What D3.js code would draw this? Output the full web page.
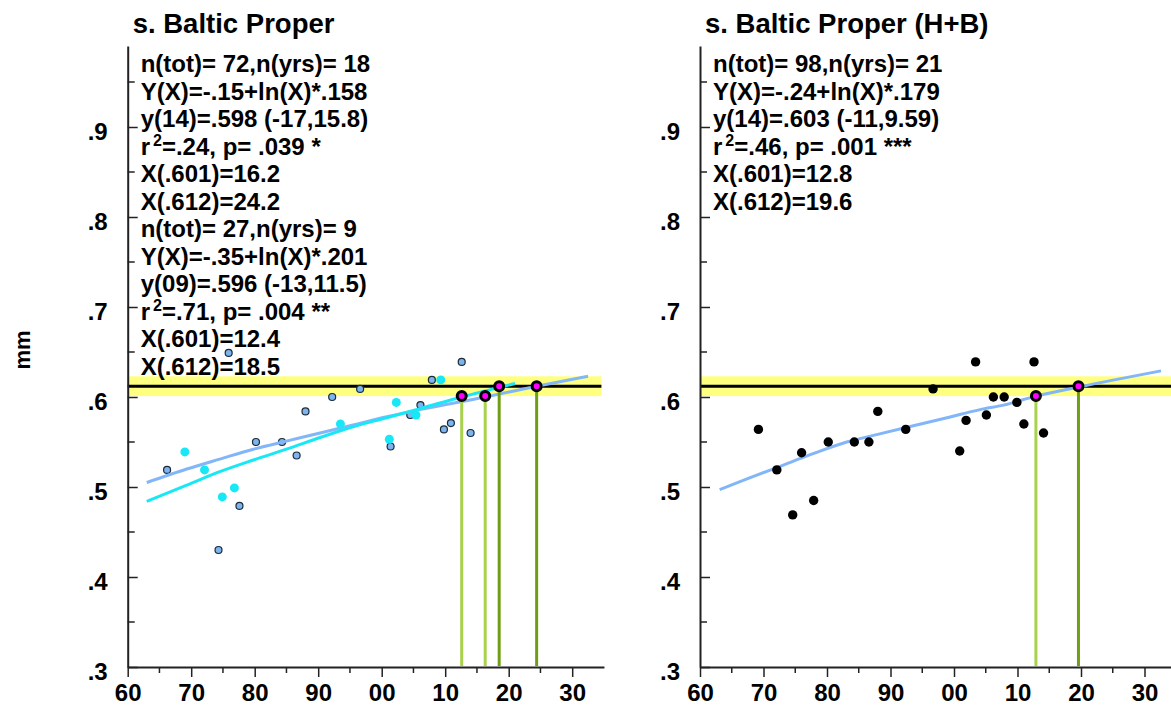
<!DOCTYPE html>
<html><head><meta charset="utf-8">
<script src="https://cdn.jsdelivr.net/npm/d3@7"></script>
<style>
body{margin:0;background:#fff;}
text{font-family:"Liberation Sans",Arial,Helvetica,sans-serif;font-weight:bold;fill:#000;}
</style></head>
<body><svg id="chart" width="1171" height="706"></svg>
<script>
// ---- data ----
const xDecades = [1960,1970,1980,1990,2000,2010,2020,2030];
const xMinor = [1965,1975,1985,1995,2005,2015,2025];
const yMajor = [0.3,0.4,0.5,0.6,0.7,0.8,0.9];
const yMinor = [0.35,0.45,0.55,0.65,0.75,0.85,0.95];
const targetBand = [0.601, 0.623];
const targetLine = 0.612;

// left panel: all samples (blue) and H+B subset (cyan)
const leftBlueYears  = [1966.2,1974.3,1975.9,1977.6,1980.2,1984.3,1986.6,1988.0,1992.2,1996.6,2001.4,2004.5,2006.1,2007.9,2009.8,2010.9,2012.6,2014.0];
const leftBlueValues = [0.519,0.430,0.649,0.479,0.550,0.550,0.535,0.584,0.600,0.609,0.545,0.580,0.591,0.619,0.564,0.571,0.639,0.560];
const leftCyanYears  = [1969.0,1972.1,1974.9,1976.8,1993.5,2001.2,2002.3,2005.4,2009.3];
const leftCyanValues = [0.539,0.519,0.489,0.499,0.570,0.553,0.594,0.580,0.619];
const leftFitYears   = [1963.0,1969.3,1974.5,1979.8,1985.0,1990.3,1995.5,2000.8,2006.0,2016.3,2024.4,2032.5];
const leftFitValues  = [0.505,0.520,0.531,0.542,0.551,0.560,0.569,0.578,0.586,0.600,0.612,0.623];
const leftCyanFitYears  = [1963.0,1969.3,1974.5,1979.8,1985.0,1990.3,1995.5,2000.8,2006.0,2012.6,2021.0];
const leftCyanFitValues = [0.484,0.502,0.517,0.530,0.542,0.555,0.567,0.577,0.587,0.600,0.615];
const leftMarkYears  = [2012.6,2016.3,2018.5,2024.4];
const leftMarkValues = [0.601,0.601,0.612,0.612];
const leftMarkKinds  = ["light","light","dark","dark"];
const leftTitle = "s. Baltic Proper";
const leftLines = ["n(tot)= 72,n(yrs)= 18","Y(X)=-.15+ln(X)*.158","y(14)=.598 (-17,15.8)","r|2|=.24, p= .039 *","X(.601)=16.2","X(.612)=24.2",
                   "n(tot)= 27,n(yrs)= 9","Y(X)=-.35+ln(X)*.201","y(09)=.596 (-13,11.5)","r|2|=.71, p= .004 **","X(.601)=12.4","X(.612)=18.5"];

// right panel (H+B)
const rightYears  = [1969.2,1972.1,1974.6,1976.0,1977.9,1980.2,1984.3,1986.6,1988.0,1992.4,1996.7,2000.9,2001.9,2003.4,2005.1,2006.2,2007.9,2009.9,2011.0,2012.6,2014.1];
const rightValues = [0.564,0.519,0.469,0.538,0.485,0.550,0.550,0.550,0.584,0.564,0.609,0.540,0.574,0.639,0.580,0.600,0.600,0.594,0.570,0.639,0.560];
const rightFitYears  = [1963.1,1967.4,1972.6,1977.8,1983.1,1988.3,1993.6,1998.9,2004.1,2007.8,2012.9,2019.6,2032.6];
const rightFitValues = [0.497,0.509,0.523,0.537,0.550,0.559,0.568,0.577,0.586,0.591,0.601,0.611,0.629];
const rightMarkYears  = [2012.9,2019.6];
const rightMarkValues = [0.601,0.612];
const rightMarkKinds  = ["light","dark"];
const rightTitle = "s. Baltic Proper (H+B)";
const rightLines = ["n(tot)= 98,n(yrs)= 21","Y(X)=-.24+ln(X)*.179","y(14)=.603 (-11,9.59)","r|2|=.46, p= .001 ***","X(.601)=12.8","X(.612)=19.6"];

const yLabel = "mm";

// ---- styles ----
const C = {band:"#ffff80", blueLine:"#82b6f8", blueDot:"#7cb4ee", cyan:"#18e8f6",
           light:"#a8d14c", dark:"#6f9e14", magenta:"#ff00ff", axis:"#222"};

const svg = d3.select("#chart");
const y = d3.scaleLinear().domain([0.3,0.99]).range([667,46]);

svg.append("text").attr("transform","translate(22,350) rotate(-90)")
   .attr("dy","0.35em").attr("text-anchor","middle").style("font-size","22px").text(yLabel);

function panel(x0, cfg){
  const x = d3.scaleLinear().domain([1960,2035]).range([x0, x0+6.35*75]);
  const g = svg.append("g");
  const xEnd = x(2034.6);

  // target band + line
  g.append("rect").attr("x",x(1960)).attr("width",xEnd-x(1960))
   .attr("y",y(targetBand[1])).attr("height",y(targetBand[0])-y(targetBand[1])).attr("fill",C.band);
  g.append("line").attr("x1",x(1960)).attr("x2",xEnd).attr("y1",y(targetLine)).attr("y2",y(targetLine))
   .attr("stroke","#000").attr("stroke-width",3);

  // x axis
  const xa = g.append("g").attr("transform","translate(0,667)")
    .call(d3.axisBottom(x).tickValues(xDecades).tickSize(10).tickSizeOuter(0).tickPadding(7)
      .tickFormat(d=>String(d%100).padStart(2,"0")));
  xa.select(".domain").attr("stroke",C.axis).attr("stroke-width",2);
  xa.selectAll(".tick line").attr("stroke",C.axis).attr("stroke-width",1.5);
  xa.selectAll("text").style("font-size","24px").attr("fill","#000");
  g.selectAll(".xminor").data(xMinor).join("line")
   .attr("x1",d=>x(d)).attr("x2",d=>x(d)).attr("y1",667).attr("y2",673)
   .attr("stroke",C.axis).attr("stroke-width",1.5);

  // y axis (ticks inward)
  const ya = g.append("g").attr("transform",`translate(${x0},0)`)
    .call(d3.axisLeft(y).tickValues(yMajor).tickSize(-10).tickSizeOuter(0).tickPadding(20)
      .tickFormat(d=>d3.format(".1f")(d).replace(/^0/,"")));
  ya.select(".domain").attr("stroke",C.axis).attr("stroke-width",2);
  ya.selectAll(".tick line").attr("stroke",C.axis).attr("stroke-width",1.5);
  ya.selectAll("text").style("font-size","24px").attr("fill","#000").attr("dy","0.5em");
  g.selectAll(".yminor").data(yMinor).join("line")
   .attr("x1",x0).attr("x2",x0+7).attr("y1",d=>y(d)).attr("y2",d=>y(d))
   .attr("stroke",C.axis).attr("stroke-width",1.5);

  // title
  g.append("text").attr("x",x0+5).attr("y",33).style("font-size","27.5px").text(cfg.title);

  // annotation text
  cfg.lines.forEach((s,i)=>{
    const t = g.append("text").attr("x",x0+13).attr("y",72+i*27.5).style("font-size","24px");
    const parts = s.split("|");
    if(parts.length===3){
      t.append("tspan").text(parts[0]);
      t.append("tspan").attr("dx",3).attr("dy",-9).style("font-size","16px").text(parts[1]);
      t.append("tspan").attr("dy",9).text(parts[2]);
    } else t.text(s);
  });

  const line = d3.line().x(d=>x(d[0])).y(d=>y(d[1])).curve(d3.curveMonotoneX);
  cfg.draw(g, x, line);

  // vertical marker lines and dots
  const marks = cfg.markYears.map((yr,i)=>({yr, v:cfg.markValues[i], k:cfg.markKinds[i]}));
  g.selectAll(".vline").data(marks).join("line")
   .attr("x1",d=>x(d.yr)).attr("x2",d=>x(d.yr)).attr("y1",d=>y(d.v)).attr("y2",666)
   .attr("stroke",d=>C[d.k]).attr("stroke-width",3);
  g.selectAll(".mk").data(marks).join("circle")
   .attr("cx",d=>x(d.yr)).attr("cy",d=>y(d.v)).attr("r",4.5)
   .attr("fill",C.magenta).attr("stroke","#000").attr("stroke-width",3);
}

panel(127.7, {title:leftTitle, lines:leftLines, markYears:leftMarkYears, markValues:leftMarkValues, markKinds:leftMarkKinds,
  draw:(g,x,line)=>{
    g.selectAll(".bd").data(leftBlueYears.map((yr,i)=>[yr,leftBlueValues[i]])).join("circle")
     .attr("cx",d=>x(d[0])).attr("cy",d=>y(d[1])).attr("r",3.5)
     .attr("fill",C.blueDot).attr("stroke","#1c2a3a").attr("stroke-width",1.2);
    g.append("path").datum(leftFitYears.map((yr,i)=>[yr,leftFitValues[i]])).attr("d",line)
     .attr("fill","none").attr("stroke",C.blueLine).attr("stroke-width",3);
    g.append("path").datum(leftCyanFitYears.map((yr,i)=>[yr,leftCyanFitValues[i]])).attr("d",line)
     .attr("fill","none").attr("stroke",C.cyan).attr("stroke-width",3);
    g.selectAll(".cd").data(leftCyanYears.map((yr,i)=>[yr,leftCyanValues[i]])).join("circle")
     .attr("cx",d=>x(d[0])).attr("cy",d=>y(d[1])).attr("r",4.5).attr("fill",C.cyan);
  }});

panel(700, {title:rightTitle, lines:rightLines, markYears:rightMarkYears, markValues:rightMarkValues, markKinds:rightMarkKinds,
  draw:(g,x,line)=>{
    g.append("path").datum(rightFitYears.map((yr,i)=>[yr,rightFitValues[i]])).attr("d",line)
     .attr("fill","none").attr("stroke",C.blueLine).attr("stroke-width",3);
    g.selectAll(".kd").data(rightYears.map((yr,i)=>[yr,rightValues[i]])).join("circle")
     .attr("cx",d=>x(d[0])).attr("cy",d=>y(d[1])).attr("r",4.7).attr("fill","#000");
  }});
</script></body></html>
